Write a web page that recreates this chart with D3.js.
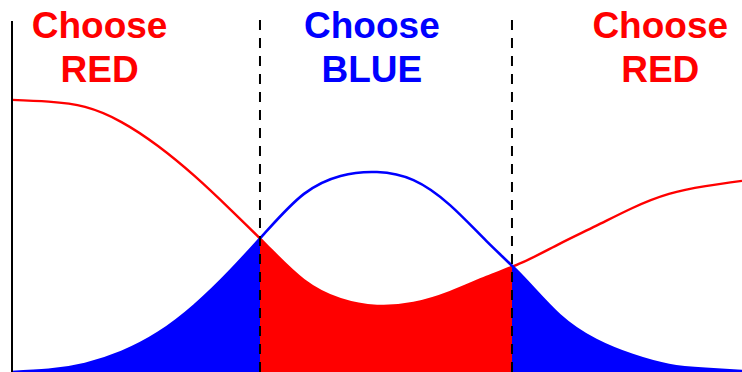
<html>
  <head>
    <title>Choose red or blue</title>
    <script src="https://d3js.org/d3.v7.min.js"></script>
    <style>
      body {
        margin: 0;
        background: #fff;
      }
      text.label {
        font-family: "Liberation Sans", Arial, sans-serif;
        font-weight: bold;
        font-size: 37px;
        text-anchor: middle;
      }
      line.dashed {
        stroke: #000;
        stroke-width: 2px;
        stroke-dasharray: 10 8;
      }
    </style>
  </head>
  <body>
    <svg id="chart" width="742" height="372"></svg>

    <script>
      // sample positions along the x axis
      const xs = [
        0, 0.5, 1, 1.5, 2, 2.5, 3, 3.5, 4, 4.5, 5, 5.5, 6, 6.5, 7, 7.5, 8, 8.5,
        9, 9.5, 10,
      ];
      // red curve
      const redValues = [
        0.773, 0.768, 0.753, 0.71, 0.642, 0.557, 0.46, 0.358, 0.261, 0.207,
        0.188, 0.196, 0.227, 0.27, 0.312, 0.364, 0.415, 0.466, 0.506, 0.528,
        0.543,
      ];
      // blue curve
      const blueValues = [
        0, 0.006, 0.023, 0.057, 0.111, 0.19, 0.29, 0.403, 0.506, 0.557, 0.568,
        0.545, 0.474, 0.372, 0.27, 0.162, 0.091, 0.048, 0.02, 0.009, 0.003,
      ];
      // where the curves cross
      const thresholds = [3.397, 6.849];
      const labels = [
        { x: 1.2, lines: ["Choose", "RED"], color: "#ff0000" },
        { x: 4.93, lines: ["Choose", "BLUE"], color: "#0000ff" },
        { x: 8.88, lines: ["Choose", "RED"], color: "#ff0000" },
      ];

      const svg = d3.select("#chart");
      const width = +svg.attr("width");
      const height = +svg.attr("height");

      const xScale = d3.scaleLinear().domain([0, 10]).range([12, width]);
      const yScale = d3.scaleLinear().domain([0, 1]).range([height, 20]);

      const red = xs.map((x, i) => ({ x: x, y: redValues[i] }));
      const blue = xs.map((x, i) => ({ x: x, y: blueValues[i] }));

      const area = d3
        .area()
        .x((d) => xScale(d.x))
        .y0(yScale(0))
        .y1((d) => yScale(d.y))
        .curve(d3.curveNatural);
      const line = d3
        .line()
        .x((d) => xScale(d.x))
        .y((d) => yScale(d.y))
        .curve(d3.curveNatural);

      // clip regions: blue is lower outside the crossings, red between
      const defs = svg.append("defs");
      const blueClip = defs.append("clipPath").attr("id", "blue-clip");
      blueClip
        .append("rect")
        .attr("x", xScale(0))
        .attr("y", 0)
        .attr("width", xScale(thresholds[0]) - xScale(0))
        .attr("height", height);
      blueClip
        .append("rect")
        .attr("x", xScale(thresholds[1]))
        .attr("y", 0)
        .attr("width", xScale(10) - xScale(thresholds[1]))
        .attr("height", height);
      defs
        .append("clipPath")
        .attr("id", "red-clip")
        .append("rect")
        .attr("x", xScale(thresholds[0]))
        .attr("y", 0)
        .attr("width", xScale(thresholds[1]) - xScale(thresholds[0]))
        .attr("height", height);

      svg
        .append("path")
        .datum(blue)
        .attr("d", area)
        .attr("fill", "#0000ff")
        .attr("clip-path", "url(#blue-clip)");
      svg
        .append("path")
        .datum(red)
        .attr("d", area)
        .attr("fill", "#ff0000")
        .attr("clip-path", "url(#red-clip)");

      // the two curves
      svg
        .append("path")
        .datum(red)
        .attr("d", line)
        .attr("fill", "none")
        .attr("stroke", "#ff0000")
        .attr("stroke-width", 2.4);
      svg
        .append("path")
        .datum(blue)
        .attr("d", line)
        .attr("fill", "none")
        .attr("stroke", "#0000ff")
        .attr("stroke-width", 2.6);

      // dashed decision boundaries
      svg
        .selectAll("line.dashed")
        .data(thresholds)
        .join("line")
        .attr("class", "dashed")
        .attr("x1", (d) => xScale(d))
        .attr("x2", (d) => xScale(d))
        .attr("y1", yScale(1))
        .attr("y2", height);

      // left axis
      svg
        .append("line")
        .attr("x1", xScale(0))
        .attr("x2", xScale(0))
        .attr("y1", yScale(1) + 1)
        .attr("y2", height)
        .attr("stroke", "#000")
        .attr("stroke-width", 2);

      // region labels
      labels.forEach((l) => {
        const t = svg
          .append("text")
          .attr("class", "label")
          .attr("fill", l.color);
        t.append("tspan").attr("x", xScale(l.x)).attr("y", 38).text(l.lines[0]);
        t.append("tspan").attr("x", xScale(l.x)).attr("y", 82).text(l.lines[1]);
      });
    </script>
  </body>
</html>
